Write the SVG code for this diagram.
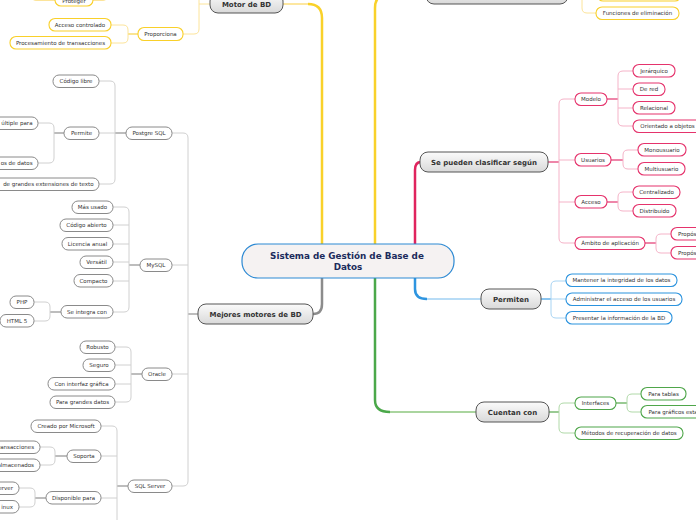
<svg xmlns="http://www.w3.org/2000/svg" width="696" height="520" viewBox="0 0 696 520">
<defs>
<linearGradient id="lg" x1="0" y1="0" x2="0" y2="1">
<stop offset="0" stop-color="#fbfbfb"/>
<stop offset="1" stop-color="#d9d9d9"/>
</linearGradient>
<style>
text{font-family:"DejaVu Sans",Verdana,sans-serif;fill:#333}
.t{font-size:5.5px;text-anchor:middle}
.te{font-size:5.5px;text-anchor:end}
.ts{font-size:5.5px;text-anchor:start}
.t1{font-size:7px;font-weight:bold;text-anchor:middle;fill:#333}
.c0 text{font-size:8.8px;font-weight:bold;text-anchor:middle;fill:#1b2b5c}
.c0 rect{fill:#f5f2f2;stroke:#2c89d3;stroke-width:1.2}
.l1 rect{fill:url(#lg);stroke:#555;stroke-width:1}
.y rect{fill:#fff;stroke:#f9d02a;stroke-width:1.1}
.k rect{fill:#fff;stroke:#8a8a8a;stroke-width:1}
.p rect{fill:#fff;stroke:#e5336c;stroke-width:1.1}
.b rect{fill:#fff;stroke:#2b93de;stroke-width:1.1}
.g rect{fill:#fff;stroke:#4fa64a;stroke-width:1.1}
#connectors path{fill:none}
.my{stroke:#f9d12a;stroke-width:2.5}
.mk{stroke:#8c8c8c;stroke-width:2.5}
.mp{stroke:#e0245e;stroke-width:2.5}
.mb{stroke:#2e95e0;stroke-width:2.5}
.mg{stroke:#4ba84a;stroke-width:2.5}
.ly{stroke:#fde7a0;stroke-width:2}
.lb{stroke:#b8dcf6;stroke-width:2}
.lgc{stroke:#aad59f;stroke-width:2}
.cy{stroke:#fce49a;stroke-width:1}
.ck{stroke:#d0d0d0;stroke-width:1}
.cp{stroke:#f5b3c8;stroke-width:1}
.cb{stroke:#a8d4f3;stroke-width:1}
.cg{stroke:#b0d9a8;stroke-width:1}
.sy{stroke:#f7d655;stroke-width:1.3}
.sk{stroke:#9a9a9a;stroke-width:1.3}
.sp{stroke:#e5457a;stroke-width:1.3}
.sb{stroke:#4aa5e6;stroke-width:1.3}
.sg{stroke:#62ae58;stroke-width:1.3}
</style>
</defs>
<rect width="696" height="520" fill="#fff"/>

<g id="connectors">
<!-- main -->
<path class="my" d="M322 244 V18 Q322 4 308 4"/>
<path class="ly" d="M308 4 H283"/>
<path class="my" d="M375 244 V8 Q375 -6 389 -6"/>
<path class="ly" d="M389 -6 H426"/>
<path class="mp" d="M415 244 V170 Q415 162 421 162"/>
<path class="mk" d="M322 278 V304 Q322 314 313 314"/>
<path class="mb" d="M415 278 V289 Q415 299 427 299"/>
<path class="lb" d="M427 299 H481"/>
<path class="mg" d="M375 278 V400 Q375 412 390 412"/>
<path class="lgc" d="M390 412 H476"/>
<!-- yellow -->
<path class="cy" d="M183 34 H194 Q199 34 199 29 V-10"/>
<path class="cy" d="M199 4 H210"/>
<path class="sy" d="M138 34 H128"/>
<path class="cy" d="M111 25 H123 Q128 25 128 30 V38 Q128 43 123 43 H111"/>
<path class="cy" d="M93 0.5 H103 Q107 0.5 107 -4"/>
<path class="cy" d="M55 0.5 H36 Q32 0.5 32 -4"/>
<path class="sy" d="M568 -6 H582"/>
<path class="cy" d="M582 -12 V8 Q582 13 587 13 H596"/>
<!-- grey -->
<path class="sk" d="M198 314 H188"/>
<path class="ck" d="M172 133 H183 Q188 133 188 138 V481 Q188 486 183 486 H172"/>
<path class="ck" d="M172 265 H188 M172 374 H188"/>
<path class="sk" d="M126 133 H115"/>
<path class="ck" d="M99 81 H110 Q115 81 115 86 V179 Q115 184 110 184 H99 M99 133 H115"/>
<path class="sk" d="M64 133 H54"/>
<path class="ck" d="M38 123 H49 Q54 123 54 128 V158 Q54 163 49 163 H38"/>
<path class="sk" d="M140 265 H129"/>
<path class="ck" d="M113 207 H124 Q129 207 129 212 V307 Q129 312 124 312 H113 M113 225 H129 M113 244 H129 M113 262 H129 M113 281 H129"/>
<path class="sk" d="M61 312 H50"/>
<path class="ck" d="M34 302 H45 Q50 302 50 307 V316 Q50 321 45 321 H34"/>
<path class="sk" d="M142 374 H131"/>
<path class="ck" d="M115 347 H126 Q131 347 131 352 V397 Q131 402 126 402 H115 M115 365 H131 M115 384 H131"/>
<path class="sk" d="M128 486 H117"/>
<path class="ck" d="M101 426 H112 Q117 426 117 431 V530 M101 456 H117 M101 498 H117"/>
<path class="sk" d="M67 456 H55"/>
<path class="ck" d="M40 447 H50 Q55 447 55 452 V460 Q55 465 50 465 H40"/>
<path class="sk" d="M46 498 H35"/>
<path class="ck" d="M19 488 H30 Q35 488 35 493 V502 Q35 507 30 507 H19"/>
<!-- pink -->
<path class="sp" d="M548 162 H559"/>
<path class="cp" d="M575 99 H564 Q559 99 559 104 V238 Q559 243 564 243 H575 M559 160 H575 M559 202 H575"/>
<path class="sp" d="M607 99 H618"/>
<path class="cp" d="M633 71 H623 Q618 71 618 76 V121 Q618 126 623 126 H633 M618 89 H633 M618 108 H633"/>
<path class="sp" d="M611 160 H623"/>
<path class="cp" d="M638 150 H628 Q623 150 623 155 V164 Q623 169 628 169 H638"/>
<path class="sp" d="M607 202 H618"/>
<path class="cp" d="M633 192 H623 Q618 192 618 197 V206 Q618 211 623 211 H633"/>
<path class="sp" d="M645 243 H656"/>
<path class="cp" d="M671 234 H661 Q656 234 656 239 V248 Q656 253 661 253 H671"/>
<!-- blue -->
<path class="sb" d="M541 299 H551"/>
<path class="cb" d="M566 281 H556 Q551 281 551 286 V313 Q551 318 556 318 H566 M551 299 H566"/>
<!-- green -->
<path class="sg" d="M549 412 H559"/>
<path class="cg" d="M575 403 H564 Q559 403 559 408 V428 Q559 433 564 433 H575"/>
<path class="sg" d="M616 403 H627"/>
<path class="cg" d="M641 394 H632 Q627 394 627 399 V407 Q627 412 632 412 H641"/>
</g>

<g id="central" class="c0">
<rect x="242" y="244" width="212" height="34" rx="16"/>
<text x="347" y="259">Sistema de Gestión de Base de</text>
<text x="348" y="270">Datos</text>
</g>

<!-- level 1 -->
<g id="n-top" class="l1"><rect x="426" y="-16" width="142" height="20" rx="8"/></g>
<g id="n-motor" class="l1"><rect x="210" y="-7" width="73" height="20" rx="8"/><text class="t1" x="246.5" y="6.5">Motor de BD</text></g>
<g id="n-mejores" class="l1"><rect x="198" y="304" width="115" height="20" rx="8"/><text class="t1" x="255.5" y="316.5">Mejores motores de BD</text></g>
<g id="n-clasificar" class="l1"><rect x="420" y="152" width="128" height="20" rx="8"/><text class="t1" x="484" y="164.5">Se pueden clasificar según</text></g>
<g id="n-permiten" class="l1"><rect x="481" y="289" width="60" height="20" rx="8"/><text class="t1" x="511" y="301.5">Permiten</text></g>
<g id="n-cuentan" class="l1"><rect x="476" y="402" width="73" height="20" rx="8"/><text class="t1" x="512.5" y="414.5">Cuentan con</text></g>

<!-- yellow -->
<g id="n-yellowtop" class="y"><rect x="597" y="-12" width="84" height="13" rx="6"/></g>
<g id="n-funciones" class="y"><rect x="596" y="7" width="83" height="12.5" rx="6"/><text class="t" x="637.5" y="15.2">Funciones de eliminación</text></g>
<g id="n-proporciona" class="y"><rect x="138" y="27.5" width="45" height="13" rx="6"/><text class="t" x="160.5" y="36">Proporciona</text></g>
<g id="n-acceso-controlado" class="y"><rect x="49" y="18.5" width="62" height="12.5" rx="6"/><text class="t" x="80" y="26.8">Acceso controlado</text></g>
<g id="n-procesamiento" class="y"><rect x="10" y="36.5" width="101" height="12.5" rx="6"/><text class="t" x="60.5" y="44.8">Procesamiento de transacciones</text></g>
<g id="n-proteger" class="y"><rect x="55" y="-7" width="38" height="13" rx="6"/><text class="t" x="74" y="3.3">Proteger</text></g>

<!-- grey -->
<g id="n-postgre" class="k"><rect x="126" y="127" width="46" height="12.5" rx="6"/><text class="t" x="149" y="135.3">Postgre SQL</text></g>
<g id="n-mysql" class="k"><rect x="140" y="259" width="32" height="12.5" rx="6"/><text class="t" x="156" y="267.3">MySQL</text></g>
<g id="n-oracle" class="k"><rect x="142" y="368" width="30" height="12.5" rx="6"/><text class="t" x="157" y="376.3">Oracle</text></g>
<g id="n-sqlserver" class="k"><rect x="128" y="480" width="44" height="12.5" rx="6"/><text class="t" x="150" y="488.3">SQL Server</text></g>
<g id="n-codigo-libre" class="k"><rect x="53" y="75" width="46" height="12.5" rx="6"/><text class="t" x="76" y="83.3">Código libre</text></g>
<g id="n-permite" class="k"><rect x="64" y="127" width="35" height="12.5" rx="6"/><text class="t" x="81.5" y="135.3">Permite</text></g>
<g id="n-extensiones" class="k"><rect x="-60" y="178" width="159" height="12.5" rx="6"/><text class="te" x="93.5" y="186.3">de grandes extensiones de texto</text></g>
<g id="n-multiple" class="k"><rect x="-40" y="117" width="78" height="12.5" rx="6"/><text class="te" x="32.5" y="125.3">últiple para</text></g>
<g id="n-datos" class="k"><rect x="-40" y="157" width="78" height="12.5" rx="6"/><text class="te" x="32.5" y="165.3">os de datos</text></g>
<g id="n-mas-usado" class="k"><rect x="72" y="201" width="41" height="12.5" rx="6"/><text class="t" x="92.5" y="209.3">Más usado</text></g>
<g id="n-codigo-abierto" class="k"><rect x="60" y="219" width="53" height="12.5" rx="6"/><text class="t" x="86.5" y="227.3">Código abierto</text></g>
<g id="n-licencia" class="k"><rect x="62" y="237.5" width="51" height="12.5" rx="6"/><text class="t" x="87.5" y="245.8">Licencia anual</text></g>
<g id="n-versatil" class="k"><rect x="80" y="256" width="33" height="12.5" rx="6"/><text class="t" x="96.5" y="264.3">Versátil</text></g>
<g id="n-compacto" class="k"><rect x="74" y="274.5" width="39" height="12.5" rx="6"/><text class="t" x="93.5" y="282.8">Compacto</text></g>
<g id="n-integra" class="k"><rect x="61" y="305.5" width="52" height="12.5" rx="6"/><text class="t" x="87" y="313.8">Se integra con</text></g>
<g id="n-php" class="k"><rect x="10" y="296" width="24" height="12.5" rx="6"/><text class="t" x="22" y="304.3">PHP</text></g>
<g id="n-html" class="k"><rect x="0" y="314.5" width="34" height="12.5" rx="6"/><text class="t" x="17" y="322.8">HTML 5</text></g>
<g id="n-robusto" class="k"><rect x="80" y="341" width="35" height="12.5" rx="6"/><text class="t" x="97.5" y="349.3">Robusto</text></g>
<g id="n-seguro" class="k"><rect x="83" y="359" width="32" height="12.5" rx="6"/><text class="t" x="99" y="367.3">Seguro</text></g>
<g id="n-interfaz" class="k"><rect x="48" y="377.5" width="67" height="12.5" rx="6"/><text class="t" x="81.5" y="385.8">Con interfaz gráfica</text></g>
<g id="n-grandes" class="k"><rect x="50" y="396" width="65" height="12.5" rx="6"/><text class="t" x="82.5" y="404.3">Para grandes datos</text></g>
<g id="n-microsoft" class="k"><rect x="31" y="420" width="70" height="12.5" rx="6"/><text class="t" x="66" y="428.3">Creado por Microsoft</text></g>
<g id="n-soporta" class="k"><rect x="67" y="450" width="34" height="12.5" rx="6"/><text class="t" x="84" y="458.3">Soporta</text></g>
<g id="n-disponible" class="k"><rect x="46" y="491.5" width="55" height="12.5" rx="6"/><text class="t" x="73.5" y="499.8">Disponible para</text></g>
<g id="n-transacciones" class="k"><rect x="-40" y="441" width="80" height="12.5" rx="6"/><text class="te" x="34" y="449.3">ransacciones</text></g>
<g id="n-almacenados" class="k"><rect x="-40" y="459" width="80" height="12.5" rx="6"/><text class="te" x="34" y="467.3">almacenados</text></g>
<g id="n-server" class="k"><rect x="-30" y="482" width="49" height="12.5" rx="6"/><text class="te" x="13" y="490.3">erver</text></g>
<g id="n-linux" class="k"><rect x="-30" y="500.5" width="49" height="12.5" rx="6"/><text class="te" x="13" y="508.8">inux</text></g>

<!-- pink -->
<g id="n-modelo" class="p"><rect x="575" y="93" width="32" height="12.5" rx="6"/><text class="t" x="591" y="101.3">Modelo</text></g>
<g id="n-usuarios" class="p"><rect x="575" y="153.5" width="36" height="12.5" rx="6"/><text class="t" x="593" y="161.8">Usuarios</text></g>
<g id="n-acceso" class="p"><rect x="575" y="195.5" width="32" height="12.5" rx="6"/><text class="t" x="591" y="203.8">Acceso</text></g>
<g id="n-ambito" class="p"><rect x="575" y="237" width="70" height="12.5" rx="6"/><text class="t" x="610" y="245.3">Ámbito de aplicación</text></g>
<g id="n-jerarquico" class="p"><rect x="633" y="64.5" width="42" height="12.5" rx="6"/><text class="t" x="654" y="72.8">Jerárquico</text></g>
<g id="n-dered" class="p"><rect x="633" y="83" width="32" height="12.5" rx="6"/><text class="t" x="649" y="91.3">De red</text></g>
<g id="n-relacional" class="p"><rect x="633" y="101.5" width="42" height="12.5" rx="6"/><text class="t" x="654" y="109.8">Relacional</text></g>
<g id="n-objetos" class="p"><rect x="633" y="120" width="69" height="12.5" rx="6"/><text class="t" x="667.5" y="128.3">Orientado a objetos</text></g>
<g id="n-monousuario" class="p"><rect x="638" y="143.5" width="48" height="12.5" rx="6"/><text class="t" x="662" y="151.8">Monousuario</text></g>
<g id="n-multiusuario" class="p"><rect x="638" y="162.5" width="47" height="12.5" rx="6"/><text class="t" x="661.5" y="170.8">Multiusuario</text></g>
<g id="n-centralizado" class="p"><rect x="633" y="186" width="47" height="12.5" rx="6"/><text class="t" x="656.5" y="194.3">Centralizado</text></g>
<g id="n-distribuido" class="p"><rect x="633" y="204.5" width="43" height="12.5" rx="6"/><text class="t" x="654.5" y="212.8">Distribuido</text></g>
<g id="n-proposito1" class="p"><rect x="671" y="227.5" width="60" height="12.5" rx="6"/><text class="ts" x="678" y="235.8">Propós</text></g>
<g id="n-proposito2" class="p"><rect x="671" y="246.5" width="60" height="12.5" rx="6"/><text class="ts" x="678" y="254.8">Propós</text></g>

<!-- blue -->
<g id="n-mantener" class="b"><rect x="566" y="274" width="111" height="12.5" rx="6"/><text class="t" x="621.5" y="282.3">Mantener la integridad de los datos</text></g>
<g id="n-administrar" class="b"><rect x="566" y="293" width="116" height="12.5" rx="6"/><text class="t" x="624" y="301.3">Administrar el acceso de los usuarios</text></g>
<g id="n-presentar" class="b"><rect x="566" y="311.5" width="106" height="12.5" rx="6"/><text class="t" x="619" y="319.8">Presentar la información de la BD</text></g>

<!-- green -->
<g id="n-interfaces" class="g"><rect x="575" y="397" width="41" height="12.5" rx="6"/><text class="t" x="595.5" y="405.3">Interfaces</text></g>
<g id="n-metodos" class="g"><rect x="575" y="427" width="108" height="12.5" rx="6"/><text class="t" x="629" y="435.3">Métodos de recuperación de datos</text></g>
<g id="n-tablas" class="g"><rect x="641" y="387.5" width="45" height="12.5" rx="6"/><text class="t" x="663.5" y="395.8">Para tablas</text></g>
<g id="n-graficos" class="g"><rect x="641" y="405.5" width="80" height="12.5" rx="6"/><text class="ts" x="648.5" y="413.8">Para gráficos esta</text></g>
</svg>
